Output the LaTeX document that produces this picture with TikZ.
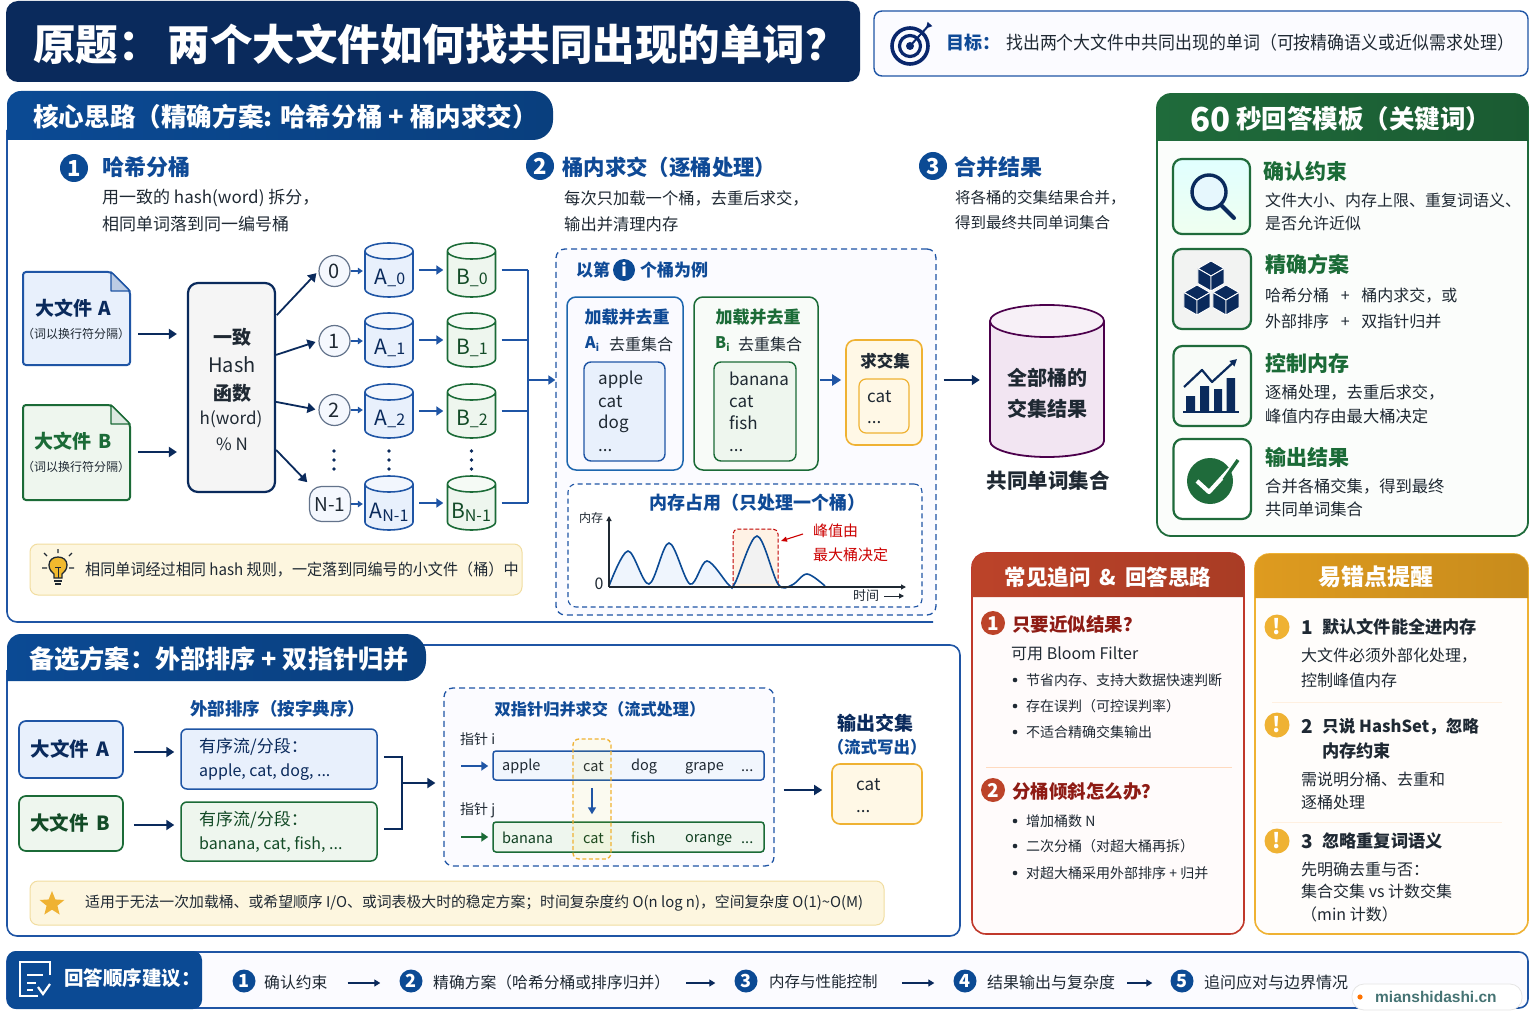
\documentclass[tikz,border=0pt]{standalone}
\usepackage{fontspec}
\setmainfont{Noto Sans CJK SC}
\newfontfamily\wmfont{Liberation Sans}
\usetikzlibrary{arrows.meta,shapes.geometric}
\definecolor{navy}{HTML}{0A2A5C}
\definecolor{hblue}{HTML}{0B4A94}
\definecolor{tblue}{HTML}{0F4A96}
\definecolor{lblue}{HTML}{1F55A5}
\definecolor{tgreen}{HTML}{1B6B37}
\definecolor{hgreen}{HTML}{1F6B3B}
\definecolor{ink}{HTML}{1F2933}
\definecolor{fblue}{HTML}{E8F0FC}
\definecolor{fgreen}{HTML}{EEF6EE}
\definecolor{fcream}{HTML}{FDF6DF}
\definecolor{lcream}{HTML}{F1DDA0}
\definecolor{gold}{HTML}{EFB233}
\definecolor{fgold}{HTML}{FFF8E6}
\definecolor{hred}{HTML}{BC4329}
\definecolor{lred}{HTML}{C0392B}
\definecolor{tred}{HTML}{8E1B14}
\definecolor{hgold}{HTML}{DE9B1F}
\newcommand\sz[1]{\fontsize{#1pt}{#1pt}\selectfont\rule[-.12em]{0pt}{1em}}
\newcommand\dotsx{...}
\newcommand\bx[6]{\node[inner sep=0pt,minimum width={((#4)-(#2))*1pt},minimum height={((#5)-(#3))*1pt},#6] (#1) at ({((#2)+(#4))/2},{((#3)+(#5))/2}) {};}
% cylinder: name, cx, top, bottom, half width, ry, style
\newcommand\cyl[7]{\draw[#7] ({#2-#5},{#3+#6}) -- ({#2-#5},{#4-#6}) arc[start angle=180,end angle=0,x radius=#5,y radius=#6] -- ({#2+#5},{#3+#6}) arc[start angle=0,end angle=-360,x radius=#5,y radius=#6];
 \fill[white,fill opacity=.45] (#2,{#3+#6}) circle[x radius=#5-1,y radius=#6-1];
 \bx{#1}{#2-#5}{#3}{#2+#5}{#4}{}}
% document shape: name, x1,y1,x2,y2, fold, stroke, fill, foldfill
\newcommand\docshape[9]{\draw[line width=2pt,draw=#7,fill=#8,rounded corners=3pt] (#2,#3) -- ({#4-#6},#3) -- (#4,{#3+#6}) -- (#4,#5) -- (#2,#5) -- cycle;
 \draw[line width=1.4pt,draw=#7,fill=#9,line join=round] ({#4-#6},#3) -- ({#4-#6},{#3+#6}) -- (#4,{#3+#6}) -- cycle;
 \bx{#1}{#2}{#3}{#4}{#5}{}}
\newcommand\isocube[3]{\fill[navy,draw=white,line width=.9pt,line join=round] (#1,{#2-#3}) -- ({#1+.87*#3},{#2-.5*#3}) -- (#1,#2) -- ({#1-.87*#3},{#2-.5*#3}) -- cycle;
 \fill[navy,draw=white,line width=.9pt,line join=round] ({#1-.87*#3},{#2-.5*#3}) -- (#1,#2) -- (#1,{#2+#3}) -- ({#1-.87*#3},{#2+.5*#3}) -- cycle;
 \fill[navy,draw=white,line width=.9pt,line join=round] ({#1+.87*#3},{#2-.5*#3}) -- (#1,#2) -- (#1,{#2+#3}) -- ({#1+.87*#3},{#2+.5*#3}) -- cycle;}
\tikzset{
 lt/.style={anchor=west,inner sep=0pt,text=ink},
 ct/.style={inner sep=0pt,text=ink},
 bolded/.style={font=\bfseries},
 arr/.style={draw=navy,line width=1.8pt,-{Triangle[length=8pt,width=10pt]}},
 arrthin/.style={draw=navy,line width=1.3pt,-{Triangle[length=6pt,width=7pt]}},
 arrblue/.style={draw=lblue,line width=1.8pt,-{Triangle[length=7pt,width=9pt]}},
 arrgreen/.style={draw=tgreen,line width=1.8pt,-{Triangle[length=7pt,width=9pt]}},
 numc/.style={circle,fill=hblue,text=white,inner sep=0pt,minimum size=28pt,font=\bfseries},
 cyla/.style={draw=lblue,line width=1.6pt,fill=fblue},
 cylb/.style={draw=tgreen,line width=1.6pt,fill=fgreen},
 idx/.style={draw=gray!70!lblue,fill=fblue!45,line width=1.2pt,circle,inner sep=0pt,minimum size=31pt,text=ink},
 iconbox/.style={draw=hgreen,line width=2.2pt,rounded corners=9pt},
 dot/.style={circle,fill=#1,inner sep=0pt,minimum size=3.6pt},
 bullet/.style={circle,fill=ink,inner sep=0pt,minimum size=4.6pt},
 notebox/.style={draw=lcream,fill=fcream,line width=1pt,rounded corners=8pt},
 warn/.style={circle,fill=gold,text=white,inner sep=0pt,minimum size=25pt,font=\bfseries},
 dashbox/.style={draw=lblue,dashed,dash pattern=on 6pt off 4pt,line width=1.3pt,rounded corners=9pt,fill=blue!1.5},
}
\begin{document}
\begin{tikzpicture}[x=1pt,y=-1pt]
\useasboundingbox (0,0) rectangle (1536,1024);
\fill[white] (0,0) rectangle (1536,1024);

%% ---------- Title ----------
\bx{titlebar}{6}{1}{860}{82}{fill=navy,rounded corners=12pt}
\node[ct,bolded,text=white,anchor=west] (titletext) at (33,44) {\sz{42.5}原题：\hspace{7pt}两个大文件如何找共同出现的单词？};
\bx{goalbox}{874}{11}{1528}{76}{draw=lblue,fill=blue!1.5,line width=1.4pt,rounded corners=8pt}
\draw[navy!90!blue,line width=3.6pt] (910,46) circle[radius=18];
\draw[navy!90!blue,line width=3.2pt] (910,46) circle[radius=10.5];
\fill[navy!90!blue] (910,46) circle[radius=4];
\draw[navy!90!blue,line width=2pt,-{Triangle[length=6pt,width=6pt,reversed]}] (910,46) -- (930,24);
\node[lt,bolded,text=tblue] (goalhead) at (946,43) {\sz{18}目标：};
\node[lt] (goaltext) at (1006,43) {\scalebox{.93}[1]{\sz{18.2}找出两个大文件中共同出现的单词（可按精确语义或近似需求处理）}};

%% ---------- Core panel ----------
\draw[lblue,line width=1.6pt,rounded corners=10pt] (7,130) -- (7,622) -- (933,622);
\path[left color=hblue,right color=hblue!85!black,draw=none] (7,140) -- (7,105) arc[start angle=180,end angle=270,radius=14] -- (533,91) arc[start angle=270,end angle=360,radius=20] -- (553,120) arc[start angle=0,end angle=90,radius=20] -- cycle;
\node[lt,bolded,text=white] (corehead) at (33,117) {\sz{25.6}核心思路（精确方案: 哈希分桶 + 桶内求交）};

\node[numc] (n1) at (74,168) {\sz{22}1};
\node[lt,bolded,text=tblue] (s1h) at (102,167) {\sz{22}哈希分桶};
\node[lt] (s1a) at (102,198) {\sz{17}用一致的 hash(word) 拆分，};
\node[lt] (s1b) at (102,224) {\sz{17}相同单词落到同一编号桶};
\node[numc] (n2) at (540,166) {\sz{22}2};
\node[lt,bolded,text=tblue] (s2h) at (562,167) {\sz{21.4}桶内求交（逐桶处理）};
\node[lt] (s2a) at (564,198) {\sz{16.3}每次只加载一个桶，去重后求交，};
\node[lt] (s2b) at (564,224) {\sz{16.3}输出并清理内存};
\node[numc] (n3) at (933,166) {\sz{22}3};
\node[lt,bolded,text=tblue] (s3h) at (954,167) {\sz{22}合并结果};
\node[lt] (s3a) at (955,198) {\sz{15.5}将各桶的交集结果合并，};
\node[lt] (s3b) at (955,223) {\sz{15.5}得到最终共同单词集合};

%% files
\docshape{fa}{23}{272}{130}{365}{19}{lblue}{fblue}{lblue!30}
\node[ct,bolded,text=navy] (fat) at (73,308) {\sz{19}大文件\hspace{2pt} A};
\node[ct] (fas) at (76,334) {\sz{12}（词以换行符分隔）};
\docshape{fb}{23}{405}{130}{500}{19}{tgreen}{fgreen}{tgreen!15}
\node[ct,bolded,text=tgreen] (fbt) at (73,441) {\sz{19}大文件\hspace{2pt} B};
\node[ct] (fbs) at (76,467) {\sz{12}（词以换行符分隔）};

%% hash
\bx{hash}{188}{283}{275}{492}{draw=navy,fill=gray!8,line width=2.2pt,rounded corners=10pt}
\node[ct,bolded] (h1) at (232,337) {\sz{19}一致};
\node[ct] (h2) at (232,365) {\sz{20}Hash};
\node[ct,bolded] (h3) at (232,393) {\sz{19}函数};
\node[ct] (h4) at (231,419) {\sz{17}h(word)};
\node[ct] (h5) at (232,444) {\sz{17}\% N};
\coordinate (ya) at (0,334);
\coordinate (yb) at (0,452);
\draw[arr,shorten <=8pt,shorten >=10pt] (fa.east |- ya) -- (hash.west |- ya);
\draw[arr,shorten <=8pt,shorten >=10pt] (fb.east |- yb) -- (hash.west |- yb);

%% buckets
\node[idx] (i0) at (334.5,271) {\sz{20}0};
\node[idx] (i1) at (334.5,341) {\sz{20}1};
\node[idx] (i2) at (334.5,410) {\sz{20}2};
\node[idx,rectangle,rounded corners=12pt,minimum width=41pt,minimum height=35pt] (in) at (330,504) {\sz{19}N-1};
\cyl{a0}{389}{243}{297}{24}{8}{cyla}
\cyl{a1}{389}{313}{367}{24}{8}{cyla}
\cyl{a2}{389}{384}{438}{24}{8}{cyla}
\cyl{an}{389}{476}{530}{24}{8}{cyla}
\cyl{b0}{471.5}{243}{297}{24}{8}{cylb}
\cyl{b1}{471.5}{313}{367}{24}{8}{cylb}
\cyl{b2}{471.5}{384}{438}{24}{8}{cylb}
\cyl{bn}{471.5}{476}{530}{24}{8}{cylb}
\node[ct,text=navy] (a0t) at (390,277) {\sz{21}A{\sz{16}\_0}};
\node[ct,text=navy] (a1t) at (390,347) {\sz{21}A{\sz{16}\_1}};
\node[ct,text=navy] (a2t) at (390,418) {\sz{21}A{\sz{16}\_2}};
\node[ct,text=navy] (ant) at (389,512) {\sz{21}A{\raisebox{-3pt}{\sz{16}N-1}}};
\node[ct,text=tgreen!70!black] (b0t) at (472,277) {\sz{21}B{\sz{16}\_0}};
\node[ct,text=tgreen!70!black] (b1t) at (472,347) {\sz{21}B{\sz{16}\_1}};
\node[ct,text=tgreen!70!black] (b2t) at (472,418) {\sz{21}B{\sz{16}\_2}};
\node[ct,text=tgreen!70!black] (bnt) at (471,512) {\sz{21}B{\raisebox{-3pt}{\sz{16}N-1}}};
\draw[arr,shorten <=1pt,shorten >=3pt] ([shift={(0,34)}]hash.north east) -- (i0.west);
\draw[arr,shorten >=3pt] ([shift={(0,73)}]hash.north east) -- (i1.west);
\draw[arr,shorten >=3pt] ([shift={(0,120)}]hash.north east) -- (i2.west);
\draw[arr,shorten >=1pt] ([shift={(0,168)}]hash.north east) -- ([shift={(-1,-3)}]in.north west);
\foreach \u/\v/\w in {i0/a0/b0,i1/a1/b1,i2/a2/b2,in/an/bn}{
 \draw[draw=lblue,line width=1.3pt,-{Triangle[length=5pt,width=6.5pt]},shorten >=2pt] (\u.east) -- (\v.west |- \u.east);
 \draw[arrblue,shorten <=6pt,shorten >=4pt] (\v.east) -- (\w.west);
}
\foreach \dx/\nm in {334/p,389/q,471.5/r}{
 \node[dot=navy] (d\nm a) at (\dx,451) {};
 \node[dot=navy] (d\nm b) at (\dx,460) {};
 \node[dot=navy] (d\nm c) at (\dx,469) {};
}
\coordinate (bus) at (528,380);
\foreach \w in {b0,b1,b2,bn}{\draw[lblue,line width=1.6pt,shorten <=6pt] (\w.east) -- (\w.east -| bus);}
\draw[lblue,line width=1.6pt] (b0.east -| bus) -- (bn.east -| bus);
%% note 1
\bx{note1}{30}{544}{522}{595}{notebox}
\draw[ink,line width=1.1pt] (58,553) -- (58,549) (47,556) -- (44,553) (69,556) -- (72,553) (42,568) -- (47,568) (69,568) -- (74,568);
\draw[ink,line width=1.3pt,fill=gold!90!yellow] (54,578) -- (54,574) .. controls (52,572) and (49,570) .. (49,565) .. controls (49,560) and (53,557) .. (58,557) .. controls (63,557) and (67,560) .. (67,565) .. controls (67,570) and (64,572) .. (62,574) -- (62,578) -- cycle;
\draw[ink,line width=1pt] (55,567) -- (61,567) (58,567) -- (58,578);
\draw[ink,line width=1.6pt] (54,581) -- (62,581);
\draw[ink,line width=1.6pt] (55,584) -- (61,584);
\node[lt] (note1t) at (85,569) {\scalebox{.95}[1]{\sz{15.9}相同单词经过相同 hash 规则，一定落到同编号的小文件（桶）中}};

%% ---------- Example dashed box ----------
\bx{ex}{556}{249}{936}{615}{dashbox}
\draw[arrblue] (bus) -- (bus -| ex.west);
\node[lt,bolded,text=tblue] (ex1) at (576,270) {\sz{17}以第};
\node[numc,minimum size=22pt] (exi) at (624,270) {\sz{17}i};
\node[lt,bolded,text=tblue] (ex2) at (640,270) {\sz{17}个桶为例};

\bx{boxa}{567}{297}{683}{470}{draw=lblue!90!cyan,fill=blue!2,line width=1.5pt,rounded corners=9pt}
\node[ct,bolded,text=tblue] (boxat) at (627,317) {\sz{17}加载并去重};
\node[lt,bolded,text=tblue] (boxal) at (585,344) {\sz{16}A{\raisebox{-3pt}{\sz{10}i}}};
\node[lt] (boxas) at (609,344) {\sz{16}去重集合};
\bx{inna}{584}{362}{665}{461}{draw=lblue,fill=fblue,line width=1.4pt,rounded corners=7pt}
\node[lt] (ia1) at (598,379) {\sz{17}apple};
\node[lt] (ia2) at (598,401) {\sz{17}cat};
\node[lt] (ia3) at (598,423) {\sz{17}dog};
\node[lt] (ia4) at (598,445) {\sz{17}...};

\bx{boxb}{694}{297}{818}{470}{draw=tgreen,fill=fgreen!40,line width=1.5pt,rounded corners=9pt}
\node[ct,bolded,text=tgreen] (boxbt) at (758,317) {\sz{17}加载并去重};
\node[lt,bolded,text=tgreen] (boxbl) at (715,344) {\sz{16}B{\raisebox{-3pt}{\sz{10}i}}};
\node[lt] (boxbs) at (738,344) {\sz{16}去重集合};
\bx{innb}{714}{362}{796}{461}{draw=tgreen,fill=fgreen,line width=1.4pt,rounded corners=7pt}
\node[lt] (ib1) at (729,379) {\sz{17}banana};
\node[lt] (ib2) at (729,401) {\sz{17}cat};
\node[lt] (ib3) at (729,423) {\sz{17}fish};
\node[lt] (ib4) at (729,445) {\sz{17}...};

\bx{boxc}{846}{340}{922}{445}{draw=gold,fill=fgold,line width=1.6pt,rounded corners=9pt}
\node[ct,bolded] (boxct) at (885,361) {\sz{16.5}求交集};
\bx{innc}{859}{379}{909}{433}{draw=gold,fill=fgold,line width=1.2pt,rounded corners=7pt}
\node[lt] (ic1) at (867,396) {\sz{17}cat};
\node[lt] (ic2) at (867,417) {\sz{17}...};
\coordinate (yc) at (0,380);
\draw[arrblue,line width=2.2pt,shorten <=1pt,shorten >=4pt,-{Triangle[length=9pt,width=11pt]}] (boxb.east |- yc) -- (boxc.west |- yc);

%% memory
\bx{mem}{568}{484}{922}{607}{draw=lblue,dashed,dash pattern=on 5pt off 3.5pt,line width=1.1pt,rounded corners=8pt,fill=white}
\node[ct,bolded,text=tblue] (memt) at (757,503) {\sz{18}内存占用（只处理一个桶）};
\node[ct] (memy) at (591,518) {\sz{12}内存};
\node[ct] (memz) at (599,583) {\sz{16}0};
\fill[fblue!70] plot[smooth,tension=.55] coordinates {(609,586) (628,551) (649,584) (669,543) (690,584) (707,561) (729,585)} -- cycle;
\draw[red!75!black,dashed,dash pattern=on 4pt off 2pt,line width=1pt,rounded corners=5pt,fill=orange!10] (733,587) -- (733,529) -- (778,529) -- (778,587);
\fill[gray!10] plot[smooth,tension=.55] coordinates {(735,584) (757,536) (776,584)} -- cycle;
\draw[hblue,line width=1.6pt] plot[smooth,tension=.55] coordinates {(609,586) (628,551) (649,584) (669,543) (690,584) (707,561) (729,585) (735,583) (757,536) (778,584) (792,585) (807,574) (825,586)};
\draw[ink,line width=1.3pt,-{Triangle[length=5pt,width=5pt]}] (609,587) -- (609,516);
\draw[ink,line width=1.3pt,-{Triangle[length=5pt,width=5pt]}] (609,587) -- (906,587);
\node[ct] (memx) at (866,596) {\sz{13}时间};
\coordinate (tarr0) at (884,596);
\coordinate (tarr1) at (904,596);
\draw[ink,line width=1pt,-{Triangle[length=5pt,width=5pt]}] (tarr0) -- (tarr1);
\coordinate (pk0) at (803,534);
\coordinate (pk1) at (781,541);
\draw[red!80!black,line width=1.1pt,-{Triangle[length=6pt,width=5pt]}] (pk0) -- (pk1);
\node[lt,text=red!80!black] (pk1t) at (813,531) {\sz{15}峰值由};
\node[lt,text=red!80!black] (pk2t) at (813,555) {\sz{15}最大桶决定};

%% merged cylinder
\cyl{all}{1047}{305}{457}{57}{16}{draw=violet!60!black,line width=1.8pt,fill=violet!10}
\node[ct,bolded] (allt1) at (1047,378) {\sz{20}全部桶的};
\node[ct,bolded] (allt2) at (1047,409) {\sz{20}交集结果};
\node[ct,bolded] (allt3) at (1048,481) {\sz{20.5}共同单词集合};
\draw[arr,shorten <=7pt,shorten >=10pt] (ex.east |- yc) -- (all.west |- yc);

%% ---------- 60 s panel ----------
\bx{gpanel}{1157}{94}{1528}{536}{draw=hgreen,fill=fgreen!25,line width=1.8pt,rounded corners=14pt}
\path[left color=hgreen,right color=hgreen!85!black] (1157,141) -- (1157,108) arc[start angle=180,end angle=270,radius=14] -- (1514,94) arc[start angle=270,end angle=360,radius=14] -- (1528,141) -- cycle;
\node[lt,bolded,text=white] (gh1) at (1190,119) {\sz{33}60};
\node[lt,bolded,text=white] (gh2) at (1236,119) {\sz{25.5}秒回答模板（关键词）};

\bx{ic1}{1173}{159}{1250}{234}{iconbox,top color=cyan!12,bottom color=green!6,draw=hgreen}
\bx{ic2}{1173}{249}{1251}{329}{iconbox,fill=green!4!gray!10}
\bx{ic3}{1173.5}{346}{1251}{426}{iconbox,fill=fgreen!40}
\bx{ic4}{1173.5}{439}{1251}{519}{iconbox,fill=white}
% magnifier
\draw[navy,line width=3.4pt,fill=cyan!10] (1209,192) circle[radius=17];
\draw[navy,line width=4pt,line cap=round] (1221,205) -- (1234,218);
% cubes
\isocube{1211}{276}{15}
\isocube{1197}{300}{15}
\isocube{1226}{300}{15}
% chart
\fill[navy] (1186,396) rectangle (1195,412) (1200,386) rectangle (1209,412) (1214,389) rectangle (1222,412) (1226.5,378) rectangle (1235,412);
\draw[navy,line width=1.6pt] (1183,412) -- (1239,412);
\draw[navy,line width=2.2pt,line join=round,-{Triangle[length=7pt,width=7pt]}] (1184,387) -- (1202,370) -- (1212,382) -- (1237,359);
% check
\fill[hgreen] (1210,481) circle[radius=23];
\draw[white,line width=4.2pt,line join=round] (1197,481) -- (1209,492) -- (1230,469);
\draw[hgreen,line width=3.4pt] (1224,480) -- (1238,460);

\node[lt,bolded,text=tgreen] (g1h) at (1263,172) {\sz{21}确认约束};
\node[lt] (g1a) at (1265,200) {\sz{16}文件大小、内存上限、重复词语义、};
\node[lt] (g1b) at (1265,223) {\sz{16}是否允许近似};
\node[lt,bolded,text=tgreen] (g2h) at (1265,265) {\sz{21}精确方案};
\node[lt] (g2a) at (1265,295) {\sz{16}哈希分桶\hspace{8pt} + \hspace{8pt}桶内求交，或};
\node[lt] (g2b) at (1265,321) {\sz{16}外部排序\hspace{8pt} + \hspace{8pt}双指针归并};
\node[lt,bolded,text=tgreen] (g3h) at (1265,364) {\sz{21}控制内存};
\node[lt] (g3a) at (1265,392) {\sz{16.3}逐桶处理，去重后求交，};
\node[lt] (g3b) at (1265,416) {\sz{16.3}峰值内存由最大桶决定};
\node[lt,bolded,text=tgreen] (g4h) at (1265,458) {\sz{21}输出结果};
\node[lt] (g4a) at (1265,486) {\sz{16.3}合并各桶交集，得到最终};
\node[lt] (g4b) at (1265,509) {\sz{16.3}共同单词集合};

%% ---------- Red panel ----------
\bx{rpanel}{972}{553}{1244}{934}{draw=lred,fill=red!1.5,line width=1.6pt,rounded corners=14pt}
\path[left color=hred,right color=hred!90!black] (972,597) -- (972,567) arc[start angle=180,end angle=270,radius=14] -- (1230,553) arc[start angle=270,end angle=360,radius=14] -- (1244,597) -- cycle;
\node[ct,bolded,text=white] (rh) at (1108,577) {\sz{21.5}常见追问\hspace{4pt} \& \hspace{4pt}回答思路};
\node[numc,fill=hred,minimum size=24pt] (r1) at (993,623) {\sz{19}1};
\node[lt,bolded,text=tred] (r1h) at (1012,624) {\sz{18.5}只要近似结果？};
\node[lt] (r1a) at (1011,653) {\sz{16}可用 Bloom Filter};
\foreach \yy/\nm/\tx in {680/a/节省内存、支持大数据快速判断,706/b/存在误判（可控误判率）,732/c/不适合精确交集输出}{
 \node[bullet] (r1d\nm) at (1015,\yy) {};
 \node[lt] (r1t\nm) at (1026,\yy) {\sz{14}\tx};
}
\coordinate (rd0) at (986,767);
\coordinate (rd1) at (1232,767);
\draw[red!15!orange!25,line width=1pt] (rd0) -- (rd1);
\node[numc,fill=hred,minimum size=24pt] (r2) at (993,790) {\sz{19}2};
\node[lt,bolded,text=tred] (r2h) at (1012,791) {\sz{18.5}分桶倾斜怎么办？};
\foreach \yy/\nm/\tx in {821/a/增加桶数 N,846/b/二次分桶（对超大桶再拆）,873/c/对超大桶采用外部排序 + 归并}{
 \node[bullet] (r2d\nm) at (1015,\yy) {};
 \node[lt] (r2t\nm) at (1026,\yy) {\sz{14}\tx};
}

%% ---------- Gold panel ----------
\bx{opanel}{1255}{554}{1528}{934}{draw=gold,fill=orange!1.5,line width=1.6pt,rounded corners=14pt}
\path[left color=hgold,right color=hgold!90!black] (1255,598) -- (1255,568) arc[start angle=180,end angle=270,radius=14] -- (1514,554) arc[start angle=270,end angle=360,radius=14] -- (1528,598) -- cycle;
\node[ct,bolded,text=white] (oh) at (1376,577) {\sz{23}易错点提醒};
\node[warn] (w1) at (1277,627) {\sz{21}!};
\node[lt,bolded] (o1n) at (1301,627) {\sz{19}1};
\node[lt,bolded] (o1h) at (1322,627) {\sz{17.2}默认文件能全进内存};
\node[lt] (o1a) at (1301,655) {\sz{16}大文件必须外部化处理，};
\node[lt] (o1b) at (1301,680) {\sz{16}控制峰值内存};
\coordinate (od1a) at (1272,702);
\coordinate (od1b) at (1502,702);
\draw[orange!12,line width=1pt] (od1a) -- (od1b);
\node[warn] (w2) at (1277,725) {\sz{21}!};
\node[lt,bolded] (o2n) at (1301,726) {\sz{19}2};
\node[lt,bolded] (o2h) at (1322,726) {\sz{16.6}只说 HashSet，忽略};
\node[lt,bolded] (o2i) at (1322,751) {\sz{17.2}内存约束};
\node[lt] (o2a) at (1301,779) {\sz{16}需说明分桶、去重和};
\node[lt] (o2b) at (1301,802) {\sz{16}逐桶处理};
\coordinate (od2a) at (1272,822);
\coordinate (od2b) at (1502,822);
\draw[orange!12,line width=1pt] (od2a) -- (od2b);
\node[warn] (w3) at (1277,841) {\sz{21}!};
\node[lt,bolded] (o3n) at (1301,841) {\sz{19}3};
\node[lt,bolded] (o3h) at (1322,841) {\sz{17.2}忽略重复词语义};
\node[lt] (o3a) at (1301,869) {\sz{16}先明确去重与否：};
\node[lt] (o3b) at (1301,891) {\sz{16}集合交集 vs 计数交集};
\node[lt] (o3c) at (1301,914) {\sz{16}（min 计数）};

%% ---------- Alternative panel ----------
\draw[lblue,line width=1.6pt,rounded corners=10pt] (7,670) -- (7,936) -- (960,936) -- (960,645) -- (420,645);
\path[left color=hblue,right color=hblue!85!black] (7,681) -- (7,648) arc[start angle=180,end angle=270,radius=14] -- (406,634) arc[start angle=270,end angle=360,radius=20] -- (426,661) arc[start angle=0,end angle=90,radius=20] -- cycle;
\node[lt,bolded,text=white] (althead) at (29,659) {\sz{25.2}备选方案：外部排序 + 双指针归并};

\bx{afa}{19}{721}{123}{778}{draw=lblue,fill=fblue,line width=1.7pt,rounded corners=7pt}
\node[ct,bolded,text=navy] (afat) at (70,749) {\sz{19.5}大文件\hspace{3pt} A};
\bx{afb}{19}{796}{123}{851}{draw=tgreen,fill=fgreen,line width=1.7pt,rounded corners=7pt}
\node[ct,bolded,text=tgreen!70!black] (afbt) at (70,823) {\sz{19.5}大文件\hspace{3pt} B};
\node[ct,bolded,text=tblue] (sortt) at (277.5,709) {\sz{17.5}外部排序（按字典序）};
\bx{sa}{181}{729}{377}{789}{draw=lblue,fill=fblue,line width=1.5pt,rounded corners=6pt}
\node[lt,text=navy] (sa1) at (199,747) {\sz{17}有序流/分段：};
\node[lt,text=navy] (sa2) at (199,771) {\sz{16}apple, cat, dog, ...};
\bx{sb}{181}{802}{377}{861}{draw=tgreen,fill=fgreen,line width=1.5pt,rounded corners=6pt}
\node[lt,text=tgreen!70!black] (sb1) at (199,820) {\sz{17}有序流/分段：};
\node[lt,text=tgreen!70!black] (sb2) at (199,844) {\sz{16}banana, cat, fish, ...};
\coordinate (ysa) at (0,752);
\coordinate (ysb) at (0,825);
\draw[arr,shorten <=10pt,shorten >=6pt] (afa.east |- ysa) -- (sa.west |- ysa);
\draw[arr,shorten <=10pt,shorten >=6pt] (afb.east |- ysb) -- (sb.west |- ysb);

\bx{merge}{444}{688}{774}{866}{dashbox}
\coordinate (bj) at (402,783);
\coordinate (yba) at (0,757);
\coordinate (ybb) at (0,829);
\draw[navy,line width=1.6pt,shorten <=6pt,shorten >=6pt] (sa.east |- yba) -- (bj |- yba) -- (bj |- ybb) -- (sb.east |- ybb);
\draw[arr,shorten >=8pt] (bj) -- (bj -| merge.west);
\node[ct,bolded,text=tblue] (mt) at (600,709) {\sz{16.2}双指针归并求交（流式处理）};
\node[lt] (pi) at (460,739) {\sz{14}指针 i};
\bx{rowa}{493}{751}{764}{780}{draw=lblue,fill=fblue!60,line width=1.5pt,rounded corners=3pt}
\foreach \xx/\nm/\tx in {502/a/apple,583/b/cat,631/c/dog,685/d/grape,741/e/\dotsx}{\node[lt] (ra\nm) at (\xx,766) {\sz{14.5}\tx};}
\node[lt] (pj) at (460,810) {\sz{14}指针 j};
\bx{rowb}{493}{822}{764}{852}{draw=tgreen,fill=fgreen,line width=1.5pt,rounded corners=3pt}
\foreach \xx/\nm/\tx in {502/a/banana,583/b/cat,631/c/fish,685/d/orange,741/e/\dotsx}{\node[lt,text=tgreen!60!black] (rb\nm) at (\xx,838) {\sz{14.5}\tx};}
\coordinate (pia) at (461,766);
\coordinate (pjb) at (461,837);
\draw[arrblue,shorten >=4pt] (pia) -- (pia -| rowa.west);
\draw[arrgreen,shorten >=4pt] (pjb) -- (pjb -| rowb.west);
\bx{catcol}{573}{739}{611}{859}{draw=gold,dashed,dash pattern=on 4pt off 2.5pt,line width=1.3pt,rounded corners=6pt,fill=yellow,fill opacity=.06}
\coordinate (catx) at (592,0);
\draw[draw=lblue,line width=1.6pt,-{Triangle[length=7pt,width=8pt]},shorten <=7pt,shorten >=7pt] (catx |- rowa.south) -- (catx |- rowb.north);

\node[ct,bolded,text=navy] (ot1) at (875,723) {\sz{19}输出交集};
\node[ct,bolded,text=tblue] (ot2) at (877,747) {\sz{16.5}（流式写出）};
\bx{outb}{832}{764}{922}{824}{draw=gold,fill=fgold,line width=1.6pt,rounded corners=8pt}
\node[lt] (ob1) at (856,784) {\sz{17}cat};
\node[lt] (ob2) at (856,806) {\sz{17}...};
\coordinate (yo) at (0,790);
\draw[arr,shorten <=9pt,shorten >=9pt] (merge.east |- yo) -- (outb.west |- yo);

\bx{note2}{30}{881}{884}{925}{notebox}
\node[star,star points=5,star point ratio=2.3,fill=gold,inner sep=0pt,minimum size=26pt] (star) at (52,904) {};
\node[lt] (note2t) at (85,903) {\sz{14.85}适用于无法一次加载桶、或希望顺序 I/O、或词表极大时的稳定方案；时间复杂度约 O(n log n)，空间复杂度 O(1)\textasciitilde O(M)};

%% ---------- Bottom bar ----------
\bx{bar}{7}{952}{1528}{1008}{draw=lblue,fill=blue!1.5,line width=1.6pt,rounded corners=9pt}
\bx{barh}{7}{951}{202}{1009}{fill=hblue,rounded corners=9pt}
\draw[white,line width=2.2pt] (50,975) -- (50,962) -- (20,962) -- (20,996) -- (38,996);
\draw[white,line width=2.2pt] (27,975) -- (43,975) (27,983) -- (36,983) (27,990) -- (33,990);
\draw[white,line width=2.2pt] (38,987) -- (43,994) -- (50,984);
\node[lt,bolded,text=white] (barht) at (64,978) {\sz{19.5}回答顺序建议：};
\tikzset{stepc/.style={numc,minimum size=23pt}}
\node[stepc] (st1) at (244,981) {\sz{18}1};
\node[lt] (st1t) at (264,982) {\sz{15.8}确认约束};
\node[stepc] (st2) at (411,981) {\sz{18}2};
\node[lt] (st2t) at (433,982) {\sz{15.8}精确方案（哈希分桶或排序归并）};
\node[stepc] (st3) at (746,981) {\sz{18}3};
\node[lt] (st3t) at (769,982) {\sz{15.5}内存与性能控制};
\node[stepc] (st4) at (965,981) {\sz{18}4};
\node[lt] (st4t) at (987,982) {\sz{16}结果输出与复杂度};
\node[stepc] (st5) at (1182,981) {\sz{18}5};
\node[lt] (st5t) at (1204,982) {\sz{16}追问应对与边界情况};
\coordinate (ys) at (0,983);
\draw[arrthin,shorten <=20pt,shorten >=19pt] (st1t.east |- ys) -- (st2.west |- ys);
\draw[arrthin,shorten <=16pt,shorten >=19pt] (st2t.east |- ys) -- (st3.west |- ys);
\draw[arrthin,shorten <=24pt,shorten >=19pt] (st3t.east |- ys) -- (st4.west |- ys);
\draw[arrthin,shorten <=12pt,shorten >=18pt] (st4t.east |- ys) -- (st5.west |- ys);
\bx{wm}{1352}{984}{1522}{1010}{draw=gray!20,fill=white,line width=.8pt,rounded corners=12pt}
\fill[orange!90!red] (1360,997) circle[radius=2.6];
\node[lt,text=gray!60!teal!90!black] (wmt) at (1375,997) {\wmfont\bfseries\fontsize{15.5pt}{15.5pt}\selectfont mianshidashi.cn};
\end{tikzpicture}
\end{document}
